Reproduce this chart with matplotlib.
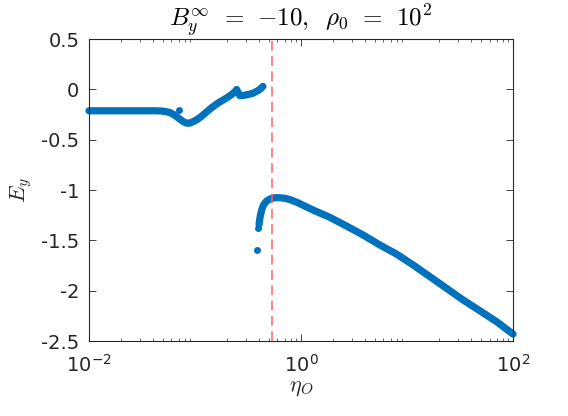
import matplotlib
matplotlib.use("Agg")
import matplotlib.pyplot as plt

# ── Données (eta_O, E_y) ─────────────────────────────────────────────
eta_branch1 = [0.010, 0.013, 0.017, 0.022, 0.028, 0.035, 0.042, 0.048, 0.053,
               0.058, 0.063, 0.068, 0.073, 0.078, 0.0836, 0.090, 0.097, 0.105,
               0.115, 0.129, 0.145, 0.165, 0.185, 0.205, 0.225, 0.240, 0.247,
               0.256, 0.266, 0.290, 0.310, 0.330, 0.350, 0.370, 0.390, 0.410,
               0.426, 0.437]
ey_branch1 = [-0.212, -0.212, -0.212, -0.212, -0.212, -0.212, -0.212, -0.214, -0.220,
              -0.230, -0.250, -0.275, -0.300, -0.322, -0.336, -0.333, -0.318, -0.298,
              -0.268, -0.222, -0.178, -0.135, -0.104, -0.075, -0.045, -0.018, 0.000,
              -0.035, -0.062, -0.058, -0.052, -0.046, -0.038, -0.026, -0.014, 0.002,
              0.018, 0.030]

eta_outlier1 = [0.071]
ey_outlier1 = [-0.205]

eta_branch2 = [0.402, 0.408, 0.415, 0.425, 0.437, 0.452, 0.470, 0.495, 0.525,
               0.560, 0.600, 0.634, 0.700, 0.780, 0.910, 1.306, 1.878, 2.70,
               3.87, 5.56, 7.99, 11.47, 16.5, 23.7, 34.0, 48.8, 70.2, 100.0]
ey_branch2 = [-1.340, -1.290, -1.245, -1.200, -1.162, -1.135, -1.112, -1.095, -1.083,
              -1.077, -1.075, -1.076, -1.081, -1.093, -1.120, -1.199, -1.271, -1.358,
              -1.447, -1.546, -1.636, -1.745, -1.861, -1.977, -2.093, -2.199, -2.308,
              -2.430]

eta_outlier2 = [0.387, 0.396]
ey_outlier2 = [-1.596, -1.372]

eta_critique = 0.53

BLEU = "#0072BD"
ROUGE = "#FF6666"
GRIS = (0.15, 0.15, 0.15)

plt.rcParams["mathtext.fontset"] = "cm"
plt.rcParams["font.family"] = "DejaVu Sans"

fig = plt.figure(figsize=(5.68, 4.16), dpi=100)
ax = fig.add_axes([0.1567, 0.180, 0.7465, 0.726])

# les points sont très serrés : une bande continue de même épaisseur
for eta, ey in [(eta_branch1, ey_branch1), (eta_branch2, ey_branch2)]:
    ax.plot(eta, ey, "-", color=BLEU, lw=5.2, solid_capstyle="round",
            solid_joinstyle="round", clip_on=False)
ax.plot(eta_outlier1 + eta_outlier2, ey_outlier1 + ey_outlier2, "o",
        color=BLEU, ms=5, mew=0, clip_on=False)

ax.axvline(eta_critique, color=ROUGE, lw=1.1, ls=(0, (6.5, 3.5)))

ax.set_xscale("log")
ax.set_xlim(1e-2, 1e2)
ax.set_ylim(-2.5, 0.5)
ax.set_xticks([1e-2, 1e0, 1e2])
ax.set_yticks([0.5, 0, -0.5, -1, -1.5, -2, -2.5])
ax.set_yticklabels(["0.5", "0", "-0.5", "-1", "-1.5", "-2", "-2.5"])

ax.tick_params(which="both", direction="in", top=True, right=True,
               colors=GRIS, labelsize=14)
ax.tick_params(axis="x", which="major", pad=9)
ax.tick_params(axis="y", which="major", pad=7)
ax.tick_params(which="major", length=5, width=0.6)
ax.tick_params(which="minor", length=2.5, width=0.5)
for sp in ax.spines.values():
    sp.set_color(GRIS)
    sp.set_linewidth(0.8)

ax.set_title(r"$B_y^{\infty}\;\,=\;\,{-}10,\;\;\rho_0\;\,=\;\,10^2$",
             fontsize=18, pad=6)
ax.set_xlabel(r"$\eta_O$", fontsize=16, color=GRIS, labelpad=2)
ax.set_ylabel(r"$E_y$", fontsize=16, color=GRIS, labelpad=5)

fig.savefig("out.png", dpi=100)
plt.close()
